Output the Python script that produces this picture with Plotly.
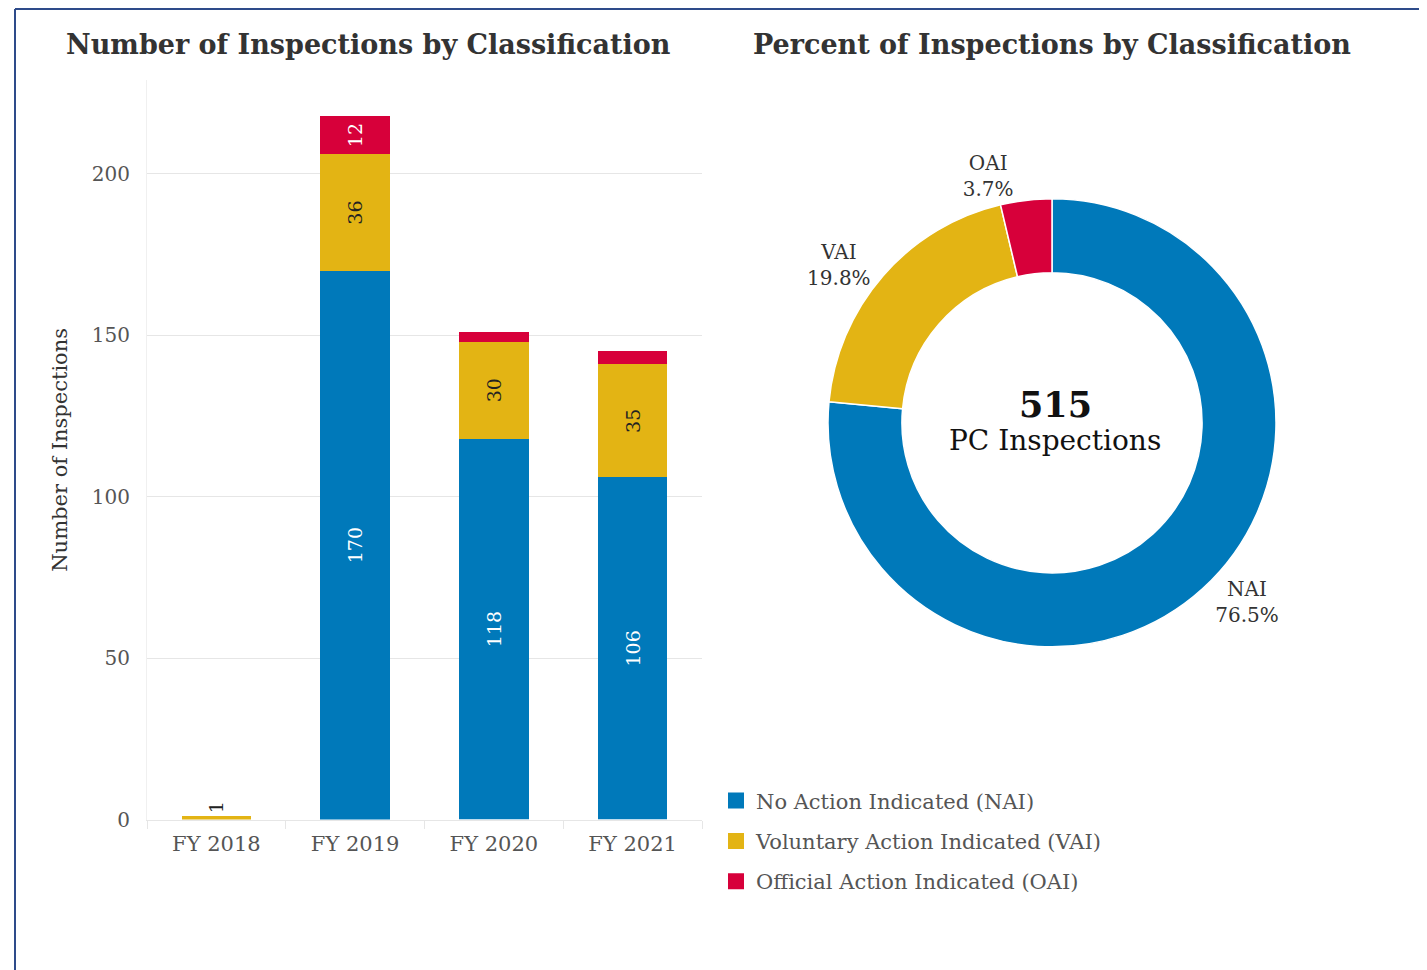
import plotly.graph_objects as go

# ---- data ----
years = ["FY 2018", "FY 2019", "FY 2020", "FY 2021"]
nai = [None, 170, 118, 106]
vai = [1, 36, 30, 35]
oai = [None, 12, 3, 4]
classes = ["NAI", "VAI", "OAI"]
class_names = ["No Action Indicated (NAI)", "Voluntary Action Indicated (VAI)", "Official Action Indicated (OAI)"]
center_total = "515"
center_label = "PC Inspections"

BLUE = "#0079BA"
YELLOW = "#E3B414"
RED = "#D7003A"
COLORS = [BLUE, YELLOW, RED]
FONT = "DejaVu Serif, Georgia, serif"

W, H = 1419, 975
OFF = 8      # page body margin
S = 0.986    # vertical photo scale


def px(x):
    return (x - OFF) / W


def py(y):
    return 1 - (y / S - OFF) / H


totals = [sum(v or 0 for v in nai), sum(v or 0 for v in vai), sum(v or 0 for v in oai)]


def lab(vals, minv):
    return ["" if (v is None or v < minv) else str(v) for v in vals]


fig = go.Figure()
fig.add_trace(go.Bar(
    x=years, y=nai, name=class_names[0], marker=dict(color=BLUE, line=dict(width=0)),
    text=lab(nai, 10), textposition="inside", insidetextanchor="middle", textangle=-90,
    textfont=dict(color="white", size=19, family=FONT), showlegend=False,
))
fig.add_trace(go.Bar(
    x=years, y=vai, name=class_names[1], marker=dict(color=YELLOW, line=dict(width=0)),
    text=lab(vai, 1), textposition=["outside", "inside", "inside", "inside"],
    insidetextanchor="middle", textangle=-90, cliponaxis=False,
    textfont=dict(color="#222", size=19, family=FONT),
    insidetextfont=dict(color="#222", size=19, family=FONT),
    outsidetextfont=dict(color="#222", size=19, family=FONT), showlegend=False,
))
fig.add_trace(go.Bar(
    x=years, y=oai, name=class_names[2], marker=dict(color=RED, line=dict(width=0)),
    text=lab(oai, 10), textposition="inside", insidetextanchor="middle", textangle=-90,
    textfont=dict(color="white", size=19, family=FONT), showlegend=False,
))

# legend entries (square swatches)
for name, col in zip(class_names, COLORS):
    fig.add_trace(go.Scatter(
        x=[None], y=[None], mode="markers", name=name, legendgroup=name,
        marker=dict(symbol="square", size=22, color=col), showlegend=True,
    ))

fig.add_trace(go.Pie(
    labels=classes, values=totals, sort=False, direction="clockwise", rotation=0,
    hole=0.67, marker=dict(colors=COLORS, line=dict(color="white", width=1.5)),
    texttemplate="%{label}<br>%{percent:.1%}", textposition="outside",
    textfont=dict(size=20, color="#333", family=FONT),
    domain=dict(x=[px(828), px(1276)], y=[py(646), py(198)]), showlegend=False,
))

fig.update_layout(
    width=W, height=H,
    margin=dict(l=0, r=0, t=0, b=0),
    paper_bgcolor="white", plot_bgcolor="white",
    barmode="stack", bargap=0.5,
    font=dict(family=FONT, color="#555"),
    showlegend=True,
    legend=dict(x=px(716), y=py(779), xanchor="left", yanchor="top",
                font=dict(size=21, color="#555", family=FONT),
                tracegroupgap=10, itemsizing="trace", traceorder="grouped"),
    xaxis=dict(domain=[px(147), px(702)], showgrid=False, ticks="outside", tickson="boundaries",
               ticklen=8, tickcolor="#e6e6e6", showline=True, linecolor="#e6e6e6",
               ticklabelstandoff=5,
               tickfont=dict(size=21, color="#555", family=FONT)),
    yaxis=dict(domain=[py(818), py(80)], range=[0, 229], tickvals=[0, 50, 100, 150, 200],
               gridcolor="#e6e6e6", zeroline=False, showline=True, linecolor="#f0f0f0",
               ticks="", tickfont=dict(size=20, color="#555", family=FONT), ticklabelstandoff=12,
               title=dict(text="Number of Inspections", font=dict(size=21, color="#333", family=FONT), standoff=18)),
    annotations=[
        dict(text="<b>Number of Inspections by Classification</b>", x=px(368), y=py(44), xref="paper", yref="paper",
             showarrow=False, font=dict(size=27, color="#333", family=FONT), xanchor="center", yanchor="middle"),
        dict(text="<b>Percent of Inspections by Classification</b>", x=px(1052), y=py(44), xref="paper", yref="paper",
             showarrow=False, font=dict(size=27, color="#333", family=FONT), xanchor="center", yanchor="middle"),
        dict(text="<b>" + center_total + "</b>", x=px(1055), y=py(404), xref="paper", yref="paper",
             showarrow=False, font=dict(size=35, color="#111", family=FONT), xanchor="center", yanchor="middle"),
        dict(text=center_label, x=px(1055), y=py(440), xref="paper", yref="paper",
             showarrow=False, font=dict(size=28, color="#111", family=FONT), xanchor="center", yanchor="middle"),
    ],
    shapes=[
        dict(type="line", xref="paper", yref="paper", x0=px(15), x1=px(15), y0=0, y1=0.999,
             line=dict(color="#2E4B8A", width=2)),
        dict(type="line", xref="paper", yref="paper", x0=px(15), x1=1, y0=0.999, y1=0.999,
             line=dict(color="#2E4B8A", width=2)),
    ],
)

fig.write_html("out.html")
